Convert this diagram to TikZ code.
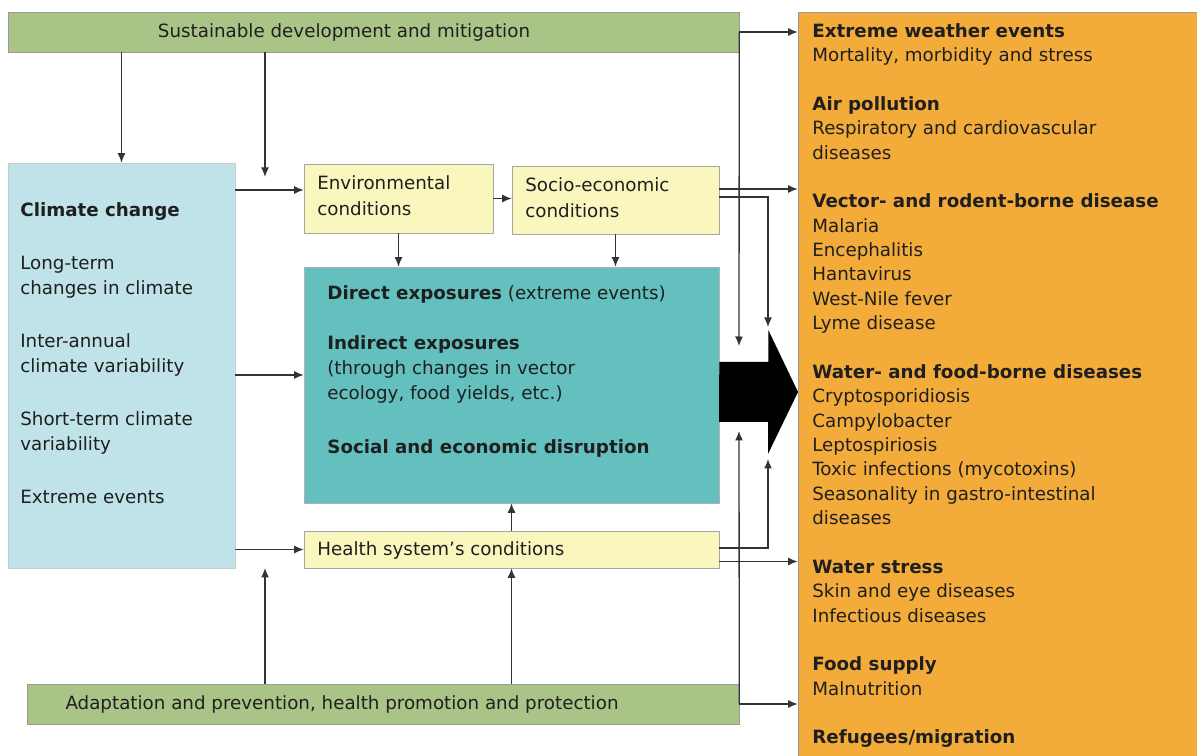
\documentclass[tikz,border=0pt]{standalone}
\usepackage{fontspec}
\setmainfont{DejaVu Sans}
\usetikzlibrary{calc,arrows.meta}
\definecolor{sdgreen}{RGB}{170,196,136}
\definecolor{ccblue}{RGB}{191,227,233}
\definecolor{condyel}{RGB}{250,247,190}
\definecolor{exteal}{RGB}{99,192,190}
\definecolor{hlorange}{RGB}{243,172,58}
\tikzstyle{gbar}=[shape=rectangle, fill=sdgreen, draw=black!40,
                  minimum height=0.8cm, inner sep=0pt]
\tikzstyle{cbox}=[shape=rectangle, fill=ccblue, draw=black!20, inner sep=0pt]
\tikzstyle{ybox}=[shape=rectangle, fill=condyel, draw=black!35, inner sep=0pt]
\tikzstyle{tbox}=[shape=rectangle, fill=exteal, draw=black!30, inner sep=0pt]
\tikzstyle{obox}=[shape=rectangle, fill=hlorange, draw=black!40, inner sep=0pt]
\tikzstyle{txt}=[inner sep=0pt, align=left, text=black!88,
                  font=\fontsize{10.4}{13.87}\selectfont]
\tikzstyle{arr}=[->, draw=black!80, line width=0.75pt]

\begin{document}
\begin{tikzpicture}[x=0.02cm, y=-0.02cm, >={Latex[length=1.9mm,width=1.6mm]}]
\useasboundingbox (0,0) rectangle (1197,756);
\clip (0,0) rectangle (1197,756);

% boxes
\node[gbar, minimum width=14.62cm] (sd) at (373.5,32) {};
\node[gbar, minimum width=14.24cm] (ad) at (383,704) {};
\node[cbox, minimum width=4.54cm, minimum height=8.1cm] (cc) at (121.5,365.5) {};
\node[ybox, minimum width=3.78cm, minimum height=1.38cm] (env) at (398.5,198.5) {};
\node[ybox, minimum width=4.14cm, minimum height=1.36cm] (soc) at (615.5,200) {};
\node[tbox, minimum width=8.3cm, minimum height=4.72cm] (exp) at (511.5,385) {};
\node[ybox, minimum width=8.3cm, minimum height=0.74cm] (hs) at (511.5,549.5) {};
\node[obox, minimum width=8.1cm, minimum height=15cm] (out) at (1000.5,387) {};

% texts
\node[txt] (sdt) at (344,32) {Sustainable development and mitigation};
\node[txt] (adt) at (342,704) {Adaptation and prevention, health promotion and protection};
\node[txt, anchor=north west, font=\fontsize{10.4}{14.25}\selectfont] (cct) at (20,202)
  {\textbf{Climate change}\\[15.9pt] Long-term\\ changes in climate\\[15.9pt]
   Inter-annual\\ climate variability\\[15.9pt] Short-term climate\\ variability\\[15.9pt]
   Extreme events};
\node[txt, anchor=north west, font=\fontsize{10.4}{14.7}\selectfont] (envt) at (317,175)
  {Environmental\\ conditions};
\node[txt, anchor=north west, font=\fontsize{10.4}{14.7}\selectfont] (soct) at (525,177)
  {Socio-economic\\ conditions};
\node[txt, anchor=north west, font=\fontsize{10.4}{14.45}\selectfont] (expt) at (327,285)
  {\textbf{Direct exposures} (extreme events)\\[13.9pt] \textbf{Indirect exposures}\\
   (through changes in vector\\ ecology, food yields, etc.)\\[16.2pt]
   \textbf{Social and economic disruption}};
\node[txt, anchor=west] (hst) at (317,550) {Health system's conditions};
\node[txt, anchor=north west] (outt) at (812,23)
  {\textbf{Extreme weather events}\\ Mortality, morbidity and stress\\[13.87pt]
   \textbf{Air pollution}\\ Respiratory and cardiovascular\\ diseases\\[13.87pt]
   \textbf{Vector- and rodent-borne disease}\\ Malaria\\ Encephalitis\\ Hantavirus\\
   West-Nile fever\\ Lyme disease\\[13.87pt]
   \textbf{Water- and food-borne diseases}\\ Cryptosporidiosis\\ Campylobacter\\
   Leptospiriosis\\ Toxic infections (mycotoxins)\\ Seasonality in gastro-intestinal\\
   diseases\\[13.87pt]
   \textbf{Water stress}\\ Skin and eye diseases\\ Infectious diseases\\[13.87pt]
   \textbf{Food supply}\\ Malnutrition\\[13.87pt]
   \textbf{Refugees/migration}};

% big arrow
\coordinate (bigtip) at (798,392);
\fill[black] (exp.east |- bigtip) ++(0,-30) -- ++(49,0) -- ++(0,-32) -- (bigtip)
  -- ++(-30,62) -- ++(0,-32) -- ++(-49,0) -- cycle;

% paths
\coordinate (sdin) at (265,177);
\coordinate (adin) at (265,568);
\coordinate (envin) at ($(env.west)+(0,-8.5)$);
\coordinate (expin) at ($(exp.west)+(0,-10)$);
\draw[arr] (sd.south -| cc.north) -- (cc.north);
\draw[arr] (sd.south -| sdin) -- (sdin);
\draw[arr] (cc.east |- envin) -- (envin);
\draw[arr] (env.east) -- (soc.west |- env.east);
\draw[arr] (env.south) -- (env.south |- exp.north);
\draw[arr] (soc.south) -- (soc.south |- exp.north);
\draw[arr] (cc.east |- expin) -- (expin);
\draw[arr] (cc.east |- hs.west) -- (hs.west);
\draw[arr] (hs.north) -- (exp.south);
\draw[arr] (ad.north -| hs.south) -- (hs.south);
\draw[arr] (ad.north -| adin) -- (adin);

% to the outcomes
\coordinate (socout) at ($(soc.east)+(0,-11)$);
\coordinate (hsout) at ($(hs.east)+(0,12)$);
\coordinate (topin) at (739,346);
\coordinate (botin) at (739,431);
\coordinate (socin) at (768,327);
\coordinate (hsin) at (768,459);
\draw[arr] (sd.east) -- (out.west |- sd.east);
\draw[arr] (ad.east) -- (out.west |- ad.east);
\draw[arr] (socout) -- (out.west |- socout);
\draw[arr] (hsout) -- (out.west |- hsout);
\draw[arr] (sd.east) -- (topin);
\draw[arr] (ad.east) -- (botin);
\draw[arr] ($(soc.east)+(0,-3)$) -| (socin);
\draw[arr] ($(hs.east)+(0,-1.5)$) -| (hsin);

\end{tikzpicture}
\end{document}
